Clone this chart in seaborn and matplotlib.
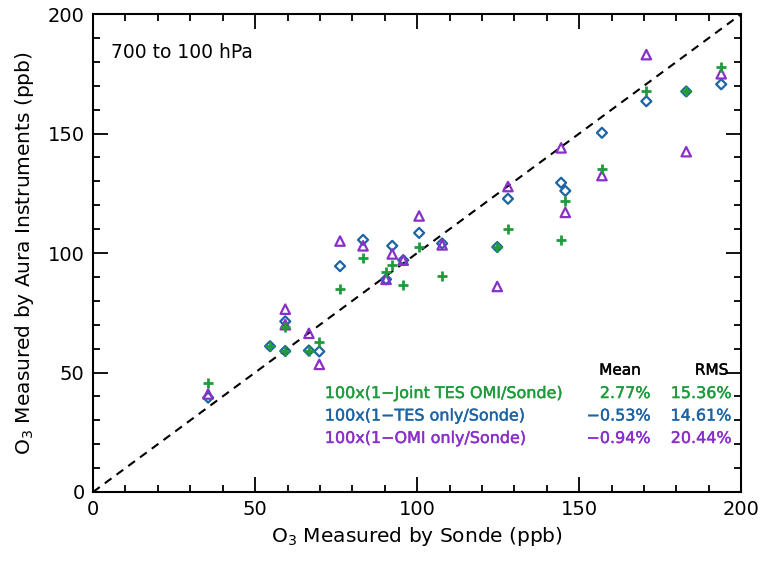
"""O3 comparison: Aura instruments vs ozonesonde, 700 to 100 hPa."""

import numpy as np
import pandas as pd
import matplotlib
matplotlib.use("Agg")
import matplotlib.pyplot as plt
import matplotlib.patheffects as pe
from matplotlib.ticker import MultipleLocator
import seaborn as sns

# ── Data ─────────────────────────────────────────────────────────────────────
sonde = [35.5, 54.6, 59.3, 59.3, 66.6, 69.8, 76.2, 83.3, 90.4, 92.3, 95.7,
         100.6, 107.7, 124.7, 128.0, 144.4, 145.7, 157.0, 170.7, 183.0, 193.8]
joint = [45.5, 61.0, 69.0, 59.0, 59.2, 62.6, 85.0, 98.0, 92.0, 95.0, 86.5,
         102.5, 90.3, 102.5, 110.0, 105.5, 121.8, 135.3, 168.0, 167.6, 177.7]
tes_only = [39.5, 61.0, 71.4, 59.0, 59.2, 58.8, 94.5, 105.5, 89.0, 103.0, 97.0,
            108.4, 104.0, 102.5, 122.7, 129.4, 126.0, 150.3, 163.5, 167.6, 170.6]
omi_only = [41.0, np.nan, 76.5, 70.0, 66.4, 53.4, 105.0, 103.0, 89.0, 99.6, 97.0,
            115.5, 103.4, 86.0, 127.8, 144.0, 117.0, 132.4, 183.0, 142.4, 175.0]

labels = ["100x(1\u2212Joint TES OMI/Sonde)",
          "100x(1\u2212TES only/Sonde)",
          "100x(1\u2212OMI only/Sonde)"]
mean_bias = ["2.77%", "\u22120.53%", "\u22120.94%"]
rms_err = ["15.36%", "14.61%", "20.44%"]

GREEN = "#1f9a3c"
BLUE = "#1d64a4"
PURPLE = "#8a2fca"

df = pd.DataFrame({"sonde": sonde, "joint": joint,
                   "tes": tes_only, "omi": omi_only})

# ── Figure ───────────────────────────────────────────────────────────────────
sns.set_style("ticks")
plt.rcParams["font.family"] = ["DejaVu Sans"]
plt.rcParams["text.color"] = "black"
plt.rcParams["axes.labelcolor"] = "black"
plt.rcParams["xtick.color"] = "black"
plt.rcParams["ytick.color"] = "black"

fig = plt.figure(figsize=(7.69, 5.61), dpi=100)
ax = fig.add_axes([0.121, 0.123, 0.843, 0.852])

ax.plot([0, 200], [0, 200], color="black", linestyle=(0, (4, 3)), linewidth=1.5,
        zorder=1)

sns.scatterplot(data=df, x="sonde", y="tes", marker="D", s=26,
                facecolor="none", edgecolor=BLUE, linewidth=1.6, ax=ax, zorder=3)
sns.scatterplot(data=df, x="sonde", y="omi", marker="^", s=46,
                facecolor="none", edgecolor=PURPLE, linewidth=1.6, ax=ax, zorder=4)
sns.scatterplot(data=df, x="sonde", y="joint", marker="+", s=42,
                color=GREEN, linewidth=2.0, ax=ax, zorder=5)

ax.set_xlim(0, 200)
ax.set_ylim(0, 200)
ax.xaxis.set_major_locator(MultipleLocator(50))
ax.yaxis.set_major_locator(MultipleLocator(50))
ax.xaxis.set_minor_locator(MultipleLocator(10))
ax.yaxis.set_minor_locator(MultipleLocator(10))
ax.tick_params(which="both", direction="in", top=True, right=True,
               labelsize=14, width=1.3, color="black", labelcolor="black", pad=6)
ax.tick_params(which="major", length=11)
ax.tick_params(which="minor", length=5)
for sp in ax.spines.values():
    sp.set_linewidth(1.5)
    sp.set_color("black")

ax.set_xlabel("O$_3$ Measured by Sonde (ppb)", fontsize=14.5, labelpad=4)
ax.set_ylabel("O$_3$ Measured by Aura Instruments (ppb)", fontsize=14.5,
              labelpad=8)


def thick(c):
    # a touch of extra stroke so the table reads like the heavier original font
    return [pe.withStroke(linewidth=0.3, foreground=c)]


ax.text(5.5, 184, "700 to 100 hPa", fontsize=13.5, va="center")

# statistics table
colors = [GREEN, BLUE, PURPLE]
ax.text(169, 51, "Mean", fontsize=11, ha="right", va="center",
        path_effects=thick("black"))
ax.text(196, 51, "RMS", fontsize=11, ha="right", va="center",
        path_effects=thick("black"))
for i, (lab, m, r) in enumerate(zip(labels, mean_bias, rms_err)):
    yy = 41.2 - i * 9.4
    ax.text(71.5, yy, lab, fontsize=11.5, color=colors[i], va="center",
            path_effects=thick(colors[i]))
    ax.text(172, yy, m, fontsize=11.5, color=colors[i], ha="right", va="center",
            path_effects=thick(colors[i]))
    ax.text(197, yy, r, fontsize=11.5, color=colors[i], ha="right", va="center",
            path_effects=thick(colors[i]))

fig.savefig("out.png", dpi=100)
plt.close(fig)
